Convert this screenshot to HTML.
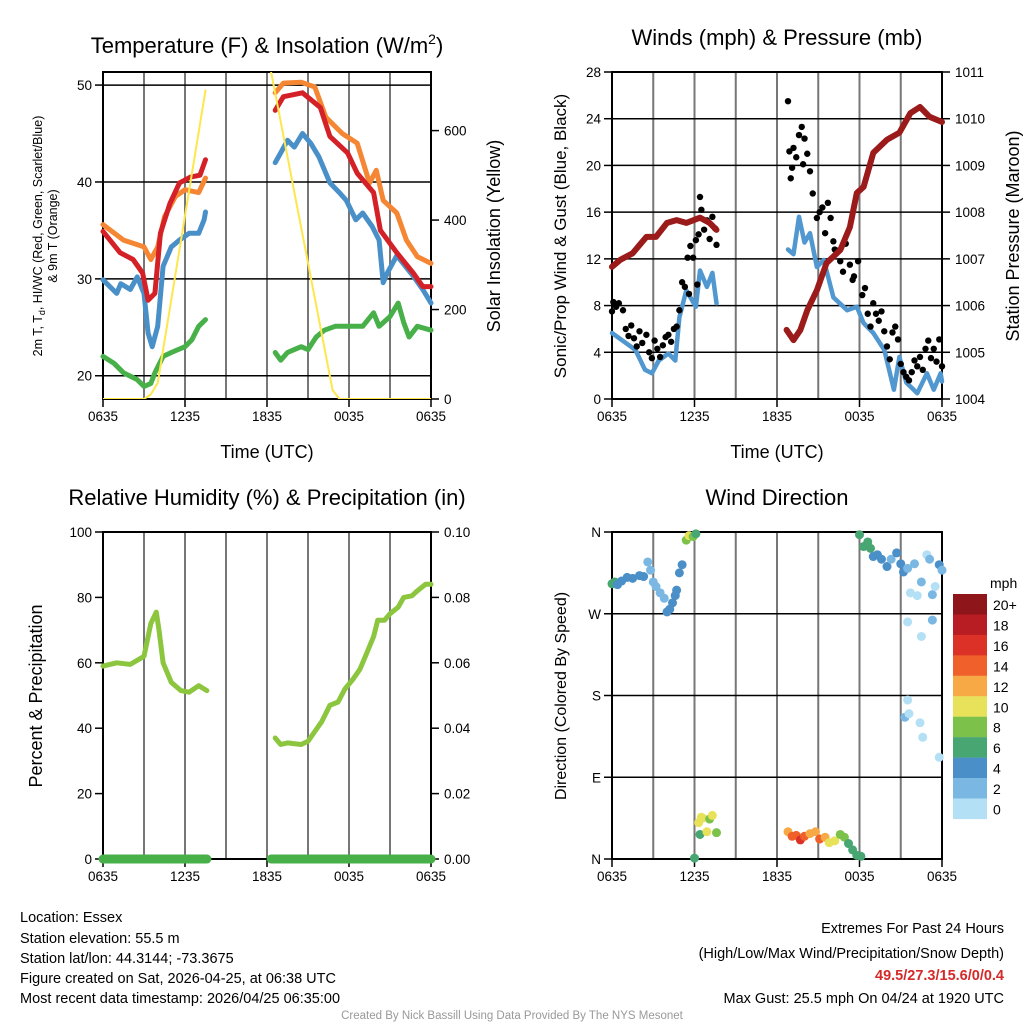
<!DOCTYPE html>
<html><head><meta charset="utf-8">
<style>
html,body{margin:0;padding:0;background:#fff;}
svg{display:block;font-family:"Liberation Sans",Arial,sans-serif;}
</style></head>
<body>
<svg id="chart" width="1024" height="1024" viewBox="0 0 1024 1024" xmlns="http://www.w3.org/2000/svg">
<rect width="1024" height="1024" fill="#fff"/>
<g id="p1"></g>
<g id="p2"></g>
<g id="p3"></g>
<g id="p4"></g>
<g id="cb"></g>

<text x="267" y="53" font-size="22" text-anchor="middle">Temperature (F) &amp; Insolation (W/m<tspan dy="-9" font-size="14">2</tspan><tspan dy="9">)</tspan></text>
<text x="777" y="45" font-size="22" text-anchor="middle">Winds (mph) &amp; Pressure (mb)</text>
<text x="267" y="505" font-size="22" text-anchor="middle">Relative Humidity (%) &amp; Precipitation (in)</text>
<text x="777" y="505" font-size="22" text-anchor="middle">Wind Direction</text>

<text transform="translate(42,236) rotate(-90)" font-size="12.5" text-anchor="middle">2m T, T<tspan dy="3" font-size="9">d</tspan><tspan dy="-3">, HI/WC (Red, Green, Scarlet/Blue)</tspan></text>
<text transform="translate(57,236) rotate(-90)" font-size="12.5" text-anchor="middle">&amp; 9m T (Orange)</text>
<text transform="translate(500,236) rotate(-90)" font-size="18" text-anchor="middle">Solar Insolation (Yellow)</text>
<text transform="translate(566,236) rotate(-90)" font-size="17" text-anchor="middle">Sonic/Prop Wind &amp; Gust (Blue, Black)</text>
<text transform="translate(1019,236) rotate(-90)" font-size="18" text-anchor="middle">Station Pressure (Maroon)</text>
<text transform="translate(42,696) rotate(-90)" font-size="18" text-anchor="middle">Percent &amp; Precipitation</text>
<text transform="translate(566,696) rotate(-90)" font-size="16" text-anchor="middle">Direction (Colored By Speed)</text>
<text x="267" y="458" font-size="18" text-anchor="middle">Time (UTC)</text>
<text x="777" y="458" font-size="18" text-anchor="middle">Time (UTC)</text>

<g font-size="14.5">
<text x="20" y="922">Location: Essex</text>
<text x="20" y="943">Station elevation: 55.5 m</text>
<text x="20" y="963">Station lat/lon: 44.3144; -73.3675</text>
<text x="20" y="983">Figure created on Sat, 2026-04-25, at 06:38 UTC</text>
<text x="20" y="1003">Most recent data timestamp: 2026/04/25 06:35:00</text>
</g>
<g font-size="14.5" text-anchor="end">
<text x="1004" y="933">Extremes For Past 24 Hours</text>
<text x="1004" y="958">(High/Low/Max Wind/Precipitation/Snow Depth)</text>
<text x="1004" y="980" fill="#d42a2a" font-weight="bold">49.5/27.3/15.6/0/0.4</text>
<text x="1004" y="1003">Max Gust: 25.5 mph On 04/24 at 1920 UTC</text>
</g>
<text x="512" y="1019" font-size="11.5" fill="#999" text-anchor="middle">Created By Nick Bassill Using Data Provided By The NYS Mesonet</text>
</svg>
<script>
// ---- data (time in hours after 0635 UTC) ----
const xTickLabels = ["0635","1235","1835","0035","0635"];
const tempTimeA = [0,1.25,2.2,2.9,3.3,3.8,4.2,4.9,5.6,6.4,7.1,7.5];
const tempA = [34.9,32.7,32,30.6,27.8,28.5,34.7,37.8,39.9,40.5,40.7,42.3];
const tempTimeB = [12.6,13.2,14.6,15.9,16.6,17.9,18.6,19.8,20.3,21.5,22.7,23.4,24];
const tempB = [47.4,48.8,49.2,47.7,44.7,43,40.9,38.9,35,32.7,30.6,29.2,29.2];
const t9TimeA = [0,1.5,3,3.5,4,4.5,5.3,6,7,7.5];
const t9A = [35.6,34,33.3,32,33.3,36.4,38.5,39.2,38.9,40.4];
const t9TimeB = [12.6,13.2,14.5,15.5,16.3,17.5,18.6,19.5,20,20.5,21.5,22.2,23,24];
const t9B = [49.2,50.2,50.3,49.8,46.7,45,44,39.9,41.2,38.1,36.8,34,32.3,31.6];
const tdTimeA = [0,1,1.3,2,2.5,3,3.3,3.6,4,4.4,5,5.6,6.3,7,7.4,7.5];
const tdA = [29.9,28.5,29.5,28.9,30.2,28.5,24.4,23,25.1,31.3,33.3,34,34.7,34.7,36.1,36.9];
const tdTimeB = [12.6,13,13.5,14,14.6,15.2,15.8,16.6,17.3,17.8,18.5,19,19.7,20.2,20.5,20.8,21.5,22.7,23.4,24];
const tdB = [42,43,44.3,43.6,45,44,42.6,39.9,38.9,38.1,36.1,36.8,35.4,34,29.6,30.6,32.4,30.3,28.9,27.5];
const wcTimeA = [0,0.8,1.5,2.5,3,3.5,3.8,4.4,5,6,6.5,7,7.5];
const wcA = [22,21.3,20.3,19.6,18.9,19.2,20.3,22,22.4,23,23.7,25.1,25.8];
const wcTimeB = [12.6,13,13.5,14,14.5,15,15.6,16.2,17,18,19,19.8,20.2,21,21.6,22,22.4,23,24];
const wcB = [22.4,21.6,22.4,22.7,23,22.7,24,24.7,25.1,25.1,25.1,26.5,25.1,26.1,27.5,25.5,24,25.1,24.7];
const solTimeA = [0,3,3.5,4,7.5];
const solA = [0,0,10,36,690];
const solTimeB = [12.3,16.8,17.3,24];
const solB = [731,20,0,0];

const presTimeA = [0,0.6,1.5,2.5,3.2,4,4.7,5.4,6.4,7.1,7.6];
const presA = [1006.83,1006.98,1007.12,1007.47,1007.47,1007.77,1007.83,1007.77,1007.88,1007.77,1007.62];
const presTimeB = [12.7,13.2,13.7,14.2,14.9,15.6,16.6,17.3,17.8,18.3,19,20,20.9,21.7,22.4,23.1,24];
const presB = [1005.48,1005.26,1005.48,1005.9,1006.33,1006.91,1007.19,1007.68,1008.41,1008.54,1009.27,1009.55,1009.7,1010.12,1010.25,1010.04,1009.93];
const windTimeA = [0,1,1.7,2.4,2.9,3.4,4.1,4.6,4.9,5.4,6.1,6.4,6.9,7.3,7.6];
const windA = [5.65,4.8,4.2,2.5,2.2,3.3,3.9,3.3,7,9.3,7.9,11,9.6,10.8,8.2];
const windTimeB = [12.8,13.2,13.6,14,14.4,14.9,15.4,16.1,17.1,17.8,18.3,19,19.8,20.5,20.9,21.4,22.2,22.9,23.4,23.9,24];
const windB = [12.8,12.4,15.6,13.4,14.2,11.3,11.9,8.7,7.6,7.9,6.5,5.65,4.2,0.8,3.6,1.4,0.5,2.2,0.8,2.2,1.5];
const gustTime = [0,0.1,0.3,0.5,0.8,1,1.2,1.4,1.6,1.8,2,2.2,2.5,2.7,2.9,3.1,3.3,3.5,3.7,3.9,4.1,4.3,4.5,4.7,4.9,5.1,5.3,5.5,5.7,5.9,6.1,6.3,6.5,6.7,6.9,7.1,7.3,7.5,7.6,5.6,6.2,6.4,
 12.8,12.9,13.0,13.1,13.2,13.4,13.6,13.8,13.9,14.0,14.2,14.4,14.6,14.9,15.1,15.3,15.5,15.7,15.9,16.1,16.4,16.6,16.8,17.0,17.3,17.6,17.9,18.2,18.4,18.6,18.8,19.0,19.2,19.4,19.6,19.8,20.0,20.2,20.4,20.6,20.8,21.0,21.2,21.4,21.6,21.8,22.0,22.2,22.4,22.6,22.8,23.0,23.2,23.4,23.6,23.8,24,17.5,16.2];
const gustVal = [7.5,8.3,7.9,8.2,7.6,6,5.4,6.3,5.2,4.5,5.8,4.8,5.5,4,3.5,5,4.3,3.6,4.6,5.3,5.5,4.9,6,6.2,7.6,10,9.6,12.1,13.1,12.1,13.6,14.1,16.2,14.5,15.3,13.7,15.6,14.6,13.2,9,9.8,17.3,
 25.5,21.2,18.9,19.8,21.5,20.7,22.6,23.3,20.1,22.3,21,19.5,17.6,15.5,16,16.4,14.2,16.8,15.5,13.5,12.7,11.8,10.9,13.3,11.5,10.5,11.8,8.9,9.5,7.3,6.2,8.2,7.3,6.7,7.5,5.8,4.5,3.4,5.7,6.2,5.1,3,2.3,1.9,1.6,2.3,3.3,2.8,3.6,2.5,4.3,5,3.5,4.3,3.2,5.1,2.8,10.2,12.8];

const rhTimeA = [0,1,2,3,3.5,3.9,4.1,4.4,5,5.7,6.3,7,7.6];
const rhA = [59,60,59.5,62,72,75.5,70,60,54,51.5,51,53,51.5];
const rhTimeB = [12.6,13,13.5,14.5,15,15.5,16,16.6,17.2,17.7,18.3,18.8,19.2,19.8,20.1,20.6,21,21.6,22,22.6,23,23.6,24];
const rhB = [37,35,35.5,35,36,39,42,47,48,52,55,58,62,68,73,73,75,77,80,80.5,82,84,84];
const precipTime = [0,7.6,12.3,24];
const precipVal = [0,0,0,0];

const dirTime = [0,0.2,0.4,0.7,1.1,1.5,2,2.3,2.6,2.8,3,3.2,3.5,3.8,4,4.2,4.4,4.6,4.7,4.9,5.1,5.4,5.6,5.9,6.1,
 6.0,6.3,6.4,6.5,6.6,6.9,7.1,7.3,7.6,
 12.8,13.1,13.4,13.7,14,14.4,14.8,15.1,15.5,15.8,16.2,16.6,16.9,17.2,17.5,17.8,18.1,
 18,18.3,18.6,18.8,19,19.3,19.6,20,20.3,20.7,21,21.2,21.5,21.7,22.2,22.5,22.9,23.1,23.3,23.5,23.8,24,21.5,22.5,23.3,22.0,
 21.5,21.3,21.6,22.4,22.6,23.8];
const dirVal = [303,305,302,306,310,309,312,311,327,318,305,300,293,287,272,275,282,290,296,315,324,351,356,355,358,
 1,40,27,46,45,30,44,48,29,
 30,25,26,21,25,28,30,22,24,18,20,27,24,17,10,4,3,
 357,344,349,342,333,335,330,322,330,337,325,316,320,293,290,305,335,330,291,300,324,318,261,245,263,325,
 175,156,160,150,134,112];
const dirSpeed = [6,6.5,5,4.5,4.5,4.2,5,4.5,2.5,3,3.5,3,3.3,3.5,4.5,5,5,4.5,4.5,5,4.5,8,10,9,7,
 6,11,7,10,10.5,11,8,11,8,
 13,14,15,17,15,13,13,14,12,11,10,9,8,7,6,7,6.5,
 6.5,6,7,6.5,4.5,4.5,4.5,5,3,4.5,4,5,2,1.5,1,3,1,2,3,1.5,4,3,0.5,1,2,2,
 1,3,1.5,1,1,1];

const cbLabels = ["20+","18","16","14","12","10","8","6","4","2","0"];
const cbColors = ["#8e1519","#b81d24","#db3127","#ef602a","#f6a945","#e8e15a","#7cc24a","#47a672","#4a8fc7","#7ab8e3","#b3e0f5"];

// ---- helpers ----
const NS="http://www.w3.org/2000/svg";
function mk(parent,tag,attrs){const e=document.createElementNS(NS,tag);for(const k in attrs)e.setAttribute(k,attrs[k]);parent.appendChild(e);return e;}
function panel(x0,x1,y0,y1){return {x0,x1,y0,y1,xs:t=>x0+t*(x1-x0)/24};}
function scale(v0,v1,y0,y1){return v=>y1-(v-v0)*(y1-y0)/(v1-v0);}
function frame(g,P,hgrid,ys,ticksL,fmtL,ysR,ticksR,fmtR){
  for(let i=1;i<8;i++){const x=P.xs(i*3);const l=mk(g,'line',{x1:x,x2:x,y1:P.y0,y2:P.y1,stroke:'#777','stroke-width':2});
    
    }
  hgrid.forEach(v=>{const y=ys(v);const l=mk(g,'line',{x1:P.x0,x2:P.x1,y1:y,y2:y,stroke:'#000','stroke-width':1.5});
    
    });
  const b=mk(g,'rect',{x:P.x0,y:P.y0,width:P.x1-P.x0,height:P.y1-P.y0,fill:'none',stroke:'#000','stroke-width':2});
  
  
  ticksL.forEach(v=>{const y=ys(v);mk(g,'line',{x1:P.x0-8,x2:P.x0,y1:y,y2:y,stroke:'#000','stroke-width':1.5});
    const t=mk(g,'text',{x:P.x0-11,y:y+5,'font-size':13.5,'text-anchor':'end'});t.textContent=fmtL(v);
    
    });
  if(ysR)ticksR.forEach(v=>{const y=ysR(v);mk(g,'line',{x1:P.x1,x2:P.x1+8,y1:y,y2:y,stroke:'#000','stroke-width':1.5});
    const t=mk(g,'text',{x:P.x1+13,y:y+5,'font-size':13.5});t.textContent=fmtR(v);
    
    });
  xTickLabels.forEach((s,i)=>{const x=P.xs(i*6);mk(g,'line',{x1:x,x2:x,y1:P.y1,y2:P.y1+8,stroke:'#000','stroke-width':1.5});
    const t=mk(g,'text',{x:x,y:P.y1+22,'font-size':13.5,'text-anchor':'middle'});t.textContent=s;
    
    });
}
function line(g,P,ys,T,V,color,w,name,clip){
  const d=T.map((t,i)=>(i?'L':'M')+P.xs(t).toFixed(1)+','+ys(V[i]).toFixed(1)).join('');
  const p=mk(g,'path',{d:d,fill:'none',stroke:color,'stroke-width':w,'stroke-linejoin':'round','stroke-linecap':'round'});
  if(clip)p.setAttribute('clip-path',clip);
  
  
}
const svg=document.getElementById('chart');
const defs=mk(svg,'defs',{});
const cp=mk(defs,'clipPath',{id:'clip1'});mk(cp,'rect',{x:103,y:72,width:328,height:327});

// ---- panel 1 ----
const g1=document.getElementById('p1');const P1=panel(103,431,72,399);
const yT=scale(17.6,51.35,72,399), yS=scale(0,731,72,399);
frame(g1,P1,[20,30,40,50],yT,[20,30,40,50],v=>v,yS,[0,200,400,600],v=>v);
line(g1,P1,yT,wcTimeA,wcA,'#47b049',5,'wind-chill-line-a');
line(g1,P1,yT,wcTimeB,wcB,'#47b049',5,'wind-chill-line-b');
line(g1,P1,yT,tdTimeA,tdA,'#4a90c8',5,'dewpoint-line-a');
line(g1,P1,yT,tdTimeB,tdB,'#4a90c8',5,'dewpoint-line-b');
line(g1,P1,yT,t9TimeA,t9A,'#f58634',5,'temp-9m-line-a');
line(g1,P1,yT,t9TimeB,t9B,'#f58634',5,'temp-9m-line-b');
line(g1,P1,yT,tempTimeA,tempA,'#d42027',5,'temp-2m-line-a');
line(g1,P1,yT,tempTimeB,tempB,'#d42027',5,'temp-2m-line-b');
line(g1,P1,yS,solTimeA,solA,'#fde74c',2,'insolation-line-a','url(#clip1)');
line(g1,P1,yS,solTimeB,solB,'#fde74c',2,'insolation-line-b','url(#clip1)');

// ---- panel 2 ----
const g2=document.getElementById('p2');const P2=panel(612,942,72,399);
const yW=scale(0,28,72,399), yP=scale(1004,1011,72,399);
frame(g2,P2,[4,8,12,16,20,24],yW,[0,4,8,12,16,20,24,28],v=>v,yP,[1004,1005,1006,1007,1008,1009,1010,1011],v=>v);
line(g2,P2,yW,windTimeA,windA,'#5197d0',4.5,'wind-line-a');
line(g2,P2,yW,windTimeB,windB,'#5197d0',4.5,'wind-line-b');
gustTime.forEach((t,i)=>{const c=mk(g2,'circle',{cx:P2.xs(t),cy:yW(gustVal[i]),r:3.2,fill:'#000'});
  
  });
line(g2,P2,yP,presTimeA,presA,'#9b1a1a',6,'pressure-line-a');
line(g2,P2,yP,presTimeB,presB,'#9b1a1a',6,'pressure-line-b');

// ---- panel 3 ----
const g3=document.getElementById('p3');const P3=panel(103,431,532,859);
const yR=scale(0,100,532,859), yPr=scale(0,0.1,532,859);
frame(g3,P3,[],yR,[0,20,40,60,80,100],v=>v,yPr,[0,0.02,0.04,0.06,0.08,0.1],v=>v.toFixed(2));
line(g3,P3,yR,rhTimeA,rhA,'#8cc63f',5,'humidity-line-a');
line(g3,P3,yR,rhTimeB,rhB,'#8cc63f',5,'humidity-line-b');
line(g3,P3,yPr,precipTime.slice(0,2),precipVal.slice(0,2),'#47b049',9,'precip-line-a');
line(g3,P3,yPr,precipTime.slice(2),precipVal.slice(2),'#47b049',9,'precip-line-b');

// ---- panel 4 ----
const g4=document.getElementById('p4');const P4=panel(612,942,532,859);
const yD=scale(0,360,532,859);
frame(g4,P4,[90,180,270],yD,[0,90,180,270,360],v=>({0:'N',90:'E',180:'S',270:'W',360:'N'})[v],null);
function spColor(s){const i=Math.min(10,Math.floor(s/2));return cbColors[10-i];}
dirTime.forEach((t,i)=>{const c=mk(g4,'circle',{cx:P4.xs(t),cy:yD(dirVal[i]),r:4.5,fill:spColor(dirSpeed[i])});
  
  });

// ---- colorbar ----
const gc=document.getElementById('cb');
const tt=mk(gc,'text',{x:990,y:588,'font-size':14});tt.textContent='mph';


cbColors.forEach((c,i)=>{const r=mk(gc,'rect',{x:953,y:594+i*20.45,width:34,height:20.6,fill:c});
  
  
  const t=mk(gc,'text',{x:993,y:610+i*20.45,'font-size':14});t.textContent=cbLabels[i];
  
  });
</script>
</body></html>
